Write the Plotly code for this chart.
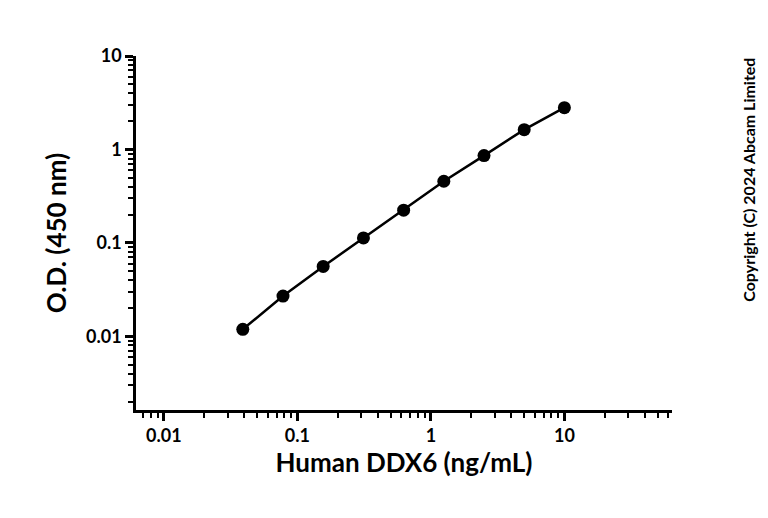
import plotly.graph_objects as go
import math

conc = [0.039, 0.078, 0.156, 0.3125, 0.625, 1.25, 2.5, 5, 10]
od = [0.0119, 0.027, 0.056, 0.113, 0.224, 0.457, 0.86, 1.63, 2.8]
xticks = [0.01, 0.1, 1, 10]
xtext = ["0.01", "0.1", "1", "10"]
yticks = [0.01, 0.1, 1, 10]
ytext = ["0.01", "0.1", "1", "10"]

fnt = "Lato"
fig = go.Figure(go.Scatter(x=conc, y=od, mode="lines+markers",
    line=dict(color="black", width=2.5), marker=dict(color="black", size=13)))
ax = dict(type="log", showgrid=False, zeroline=False, showline=True, linecolor="black",
          linewidth=2.5, ticks="outside", ticklen=8, tickwidth=2.5, tickcolor="black",
          tickfont=dict(family=fnt, size=18, color="black", weight="bold"),
          minor=dict(ticks="outside", ticklen=5, tickwidth=1.5, tickcolor="black", dtick="D1"))
fig.update_xaxes(**ax, range=[math.log10(0.00618), math.log10(64)], tickvals=xticks, ticktext=xtext,
    title=dict(text="Human DDX6 (ng/mL)", font=dict(family=fnt, size=26, color="black", weight="bold"), standoff=8))
fig.update_yaxes(**ax, range=[math.log10(0.00163), 1], tickvals=yticks, ticktext=ytext,
    title=dict(text="O.D. (450 nm)", font=dict(family=fnt, size=26, color="black", weight="bold"), standoff=12))
fig.update_layout(width=768, height=518, plot_bgcolor="white", paper_bgcolor="white",
    margin=dict(l=128, r=104, t=48, b=116), showlegend=False,
    annotations=[dict(text="Copyright (C) 2024 Abcam Limited", textangle=-90,
        xref="paper", yref="paper", x=1.165, y=0.3, showarrow=False,
        font=dict(family=fnt, size=16, color="black", weight="bold"))])
fig.write_html("out.html")
